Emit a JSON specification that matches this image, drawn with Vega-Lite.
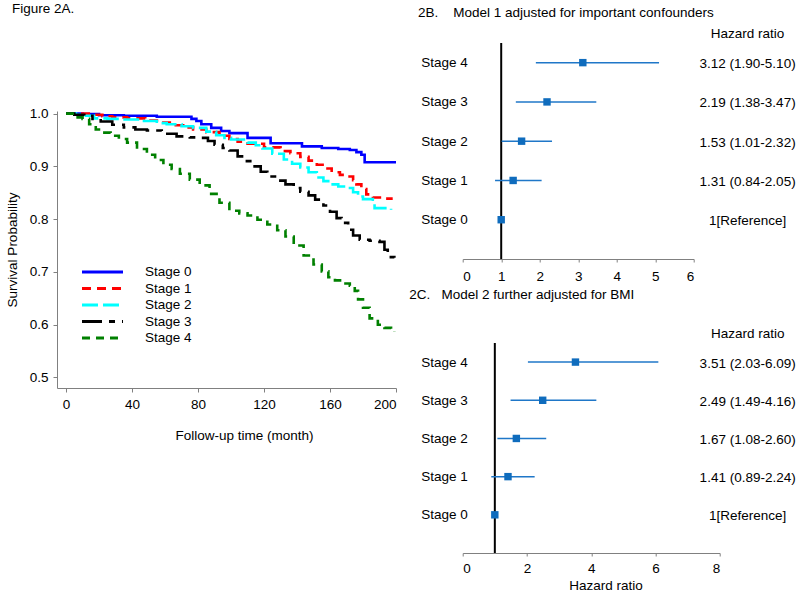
{
  "$schema": "https://vega.github.io/schema/vega-lite/v6.json",
  "padding": {"left": 5, "top": 2, "right": 0, "bottom": 0},
  "autosize": {"type": "pad"},
  "background": "white",
  "config": {
    "font": "Liberation Sans",
    "view": {"stroke": null},
    "axis": {"grid": false, "domainColor": "#808080", "tickColor": "#808080", "labelColor": "#000000", "titleColor": "#000000", "labelFontSize": 13.5, "titleFontSize": 13.5, "titleFontWeight": "normal", "labelFont": "Liberation Sans", "titleFont": "Liberation Sans"},
    "title": {"fontSize": 13.5, "fontWeight": "normal", "font": "Liberation Sans", "color": "#000000", "anchor": "start", "frame": "group", "baseline": "alphabetic"},
    "text": {"font": "Liberation Sans", "fontSize": 13.5, "color": "#000000"}
  },
  "datasets": {
    "surv": [
      {"stage": "Stage 0", "t": 0, "s": 1.0}, {"stage": "Stage 0", "t": 10, "s": 0.999}, {"stage": "Stage 0", "t": 20, "s": 0.997}, {"stage": "Stage 0", "t": 35, "s": 0.996}, {"stage": "Stage 0", "t": 55, "s": 0.994}, {"stage": "Stage 0", "t": 76, "s": 0.99}, {"stage": "Stage 0", "t": 79, "s": 0.986}, {"stage": "Stage 0", "t": 82, "s": 0.98}, {"stage": "Stage 0", "t": 88, "s": 0.973}, {"stage": "Stage 0", "t": 94, "s": 0.967}, {"stage": "Stage 0", "t": 99, "s": 0.963}, {"stage": "Stage 0", "t": 110, "s": 0.954}, {"stage": "Stage 0", "t": 124, "s": 0.944}, {"stage": "Stage 0", "t": 143, "s": 0.938}, {"stage": "Stage 0", "t": 155, "s": 0.935}, {"stage": "Stage 0", "t": 165, "s": 0.933}, {"stage": "Stage 0", "t": 172, "s": 0.931}, {"stage": "Stage 0", "t": 176, "s": 0.927}, {"stage": "Stage 0", "t": 179, "s": 0.922}, {"stage": "Stage 0", "t": 181, "s": 0.908}, {"stage": "Stage 0", "t": 200, "s": 0.908},
      {"stage": "Stage 1", "t": 0, "s": 1.0}, {"stage": "Stage 1", "t": 8, "s": 1.0}, {"stage": "Stage 1", "t": 15, "s": 0.998}, {"stage": "Stage 1", "t": 22, "s": 0.995}, {"stage": "Stage 1", "t": 28, "s": 0.993}, {"stage": "Stage 1", "t": 37, "s": 0.991}, {"stage": "Stage 1", "t": 48, "s": 0.987}, {"stage": "Stage 1", "t": 56, "s": 0.983}, {"stage": "Stage 1", "t": 64, "s": 0.978}, {"stage": "Stage 1", "t": 71, "s": 0.974}, {"stage": "Stage 1", "t": 77, "s": 0.97}, {"stage": "Stage 1", "t": 85, "s": 0.965}, {"stage": "Stage 1", "t": 93, "s": 0.958}, {"stage": "Stage 1", "t": 99, "s": 0.952}, {"stage": "Stage 1", "t": 104, "s": 0.947}, {"stage": "Stage 1", "t": 110, "s": 0.943}, {"stage": "Stage 1", "t": 120, "s": 0.936}, {"stage": "Stage 1", "t": 130, "s": 0.929}, {"stage": "Stage 1", "t": 136, "s": 0.925}, {"stage": "Stage 1", "t": 142, "s": 0.918}, {"stage": "Stage 1", "t": 147, "s": 0.911}, {"stage": "Stage 1", "t": 152, "s": 0.903}, {"stage": "Stage 1", "t": 157, "s": 0.896}, {"stage": "Stage 1", "t": 161, "s": 0.889}, {"stage": "Stage 1", "t": 166, "s": 0.884}, {"stage": "Stage 1", "t": 170, "s": 0.881}, {"stage": "Stage 1", "t": 174, "s": 0.874}, {"stage": "Stage 1", "t": 176, "s": 0.866}, {"stage": "Stage 1", "t": 179, "s": 0.857}, {"stage": "Stage 1", "t": 182, "s": 0.847}, {"stage": "Stage 1", "t": 186, "s": 0.841}, {"stage": "Stage 1", "t": 192, "s": 0.839}, {"stage": "Stage 1", "t": 198, "s": 0.839},
      {"stage": "Stage 2", "t": 0, "s": 1.0}, {"stage": "Stage 2", "t": 6, "s": 0.998}, {"stage": "Stage 2", "t": 12, "s": 0.996}, {"stage": "Stage 2", "t": 17, "s": 0.991}, {"stage": "Stage 2", "t": 25, "s": 0.99}, {"stage": "Stage 2", "t": 33, "s": 0.989}, {"stage": "Stage 2", "t": 45, "s": 0.986}, {"stage": "Stage 2", "t": 55, "s": 0.982}, {"stage": "Stage 2", "t": 61, "s": 0.98}, {"stage": "Stage 2", "t": 70, "s": 0.976}, {"stage": "Stage 2", "t": 77, "s": 0.973}, {"stage": "Stage 2", "t": 85, "s": 0.966}, {"stage": "Stage 2", "t": 91, "s": 0.959}, {"stage": "Stage 2", "t": 96, "s": 0.954}, {"stage": "Stage 2", "t": 100, "s": 0.951}, {"stage": "Stage 2", "t": 110, "s": 0.945}, {"stage": "Stage 2", "t": 115, "s": 0.94}, {"stage": "Stage 2", "t": 119, "s": 0.934}, {"stage": "Stage 2", "t": 125, "s": 0.924}, {"stage": "Stage 2", "t": 132, "s": 0.913}, {"stage": "Stage 2", "t": 137, "s": 0.905}, {"stage": "Stage 2", "t": 142, "s": 0.898}, {"stage": "Stage 2", "t": 147, "s": 0.889}, {"stage": "Stage 2", "t": 152, "s": 0.879}, {"stage": "Stage 2", "t": 156, "s": 0.872}, {"stage": "Stage 2", "t": 160, "s": 0.866}, {"stage": "Stage 2", "t": 165, "s": 0.862}, {"stage": "Stage 2", "t": 170, "s": 0.859}, {"stage": "Stage 2", "t": 174, "s": 0.851}, {"stage": "Stage 2", "t": 177, "s": 0.843}, {"stage": "Stage 2", "t": 180, "s": 0.838}, {"stage": "Stage 2", "t": 186, "s": 0.837}, {"stage": "Stage 2", "t": 187, "s": 0.821}, {"stage": "Stage 2", "t": 197, "s": 0.818},
      {"stage": "Stage 3", "t": 0, "s": 1.0}, {"stage": "Stage 3", "t": 5, "s": 0.998}, {"stage": "Stage 3", "t": 11, "s": 0.996}, {"stage": "Stage 3", "t": 16, "s": 0.99}, {"stage": "Stage 3", "t": 21, "s": 0.985}, {"stage": "Stage 3", "t": 28, "s": 0.979}, {"stage": "Stage 3", "t": 35, "s": 0.974}, {"stage": "Stage 3", "t": 42, "s": 0.97}, {"stage": "Stage 3", "t": 49, "s": 0.968}, {"stage": "Stage 3", "t": 58, "s": 0.962}, {"stage": "Stage 3", "t": 67, "s": 0.957}, {"stage": "Stage 3", "t": 75, "s": 0.955}, {"stage": "Stage 3", "t": 81, "s": 0.954}, {"stage": "Stage 3", "t": 86, "s": 0.948}, {"stage": "Stage 3", "t": 90, "s": 0.941}, {"stage": "Stage 3", "t": 95, "s": 0.935}, {"stage": "Stage 3", "t": 99, "s": 0.93}, {"stage": "Stage 3", "t": 104, "s": 0.919}, {"stage": "Stage 3", "t": 108, "s": 0.91}, {"stage": "Stage 3", "t": 113, "s": 0.9}, {"stage": "Stage 3", "t": 118, "s": 0.89}, {"stage": "Stage 3", "t": 122, "s": 0.881}, {"stage": "Stage 3", "t": 128, "s": 0.873}, {"stage": "Stage 3", "t": 133, "s": 0.866}, {"stage": "Stage 3", "t": 138, "s": 0.859}, {"stage": "Stage 3", "t": 142, "s": 0.852}, {"stage": "Stage 3", "t": 147, "s": 0.845}, {"stage": "Stage 3", "t": 151, "s": 0.837}, {"stage": "Stage 3", "t": 156, "s": 0.826}, {"stage": "Stage 3", "t": 160, "s": 0.814}, {"stage": "Stage 3", "t": 164, "s": 0.802}, {"stage": "Stage 3", "t": 167, "s": 0.793}, {"stage": "Stage 3", "t": 171, "s": 0.78}, {"stage": "Stage 3", "t": 174, "s": 0.769}, {"stage": "Stage 3", "t": 178, "s": 0.761}, {"stage": "Stage 3", "t": 184, "s": 0.759}, {"stage": "Stage 3", "t": 190, "s": 0.757}, {"stage": "Stage 3", "t": 193, "s": 0.742}, {"stage": "Stage 3", "t": 195, "s": 0.728}, {"stage": "Stage 3", "t": 199, "s": 0.727},
      {"stage": "Stage 4", "t": 0, "s": 1.0}, {"stage": "Stage 4", "t": 4, "s": 0.996}, {"stage": "Stage 4", "t": 7, "s": 0.993}, {"stage": "Stage 4", "t": 10, "s": 0.99}, {"stage": "Stage 4", "t": 14, "s": 0.98}, {"stage": "Stage 4", "t": 18, "s": 0.97}, {"stage": "Stage 4", "t": 22, "s": 0.964}, {"stage": "Stage 4", "t": 27, "s": 0.958}, {"stage": "Stage 4", "t": 32, "s": 0.952}, {"stage": "Stage 4", "t": 37, "s": 0.945}, {"stage": "Stage 4", "t": 43, "s": 0.933}, {"stage": "Stage 4", "t": 49, "s": 0.922}, {"stage": "Stage 4", "t": 54, "s": 0.912}, {"stage": "Stage 4", "t": 59, "s": 0.903}, {"stage": "Stage 4", "t": 64, "s": 0.895}, {"stage": "Stage 4", "t": 69, "s": 0.886}, {"stage": "Stage 4", "t": 75, "s": 0.875}, {"stage": "Stage 4", "t": 81, "s": 0.864}, {"stage": "Stage 4", "t": 87, "s": 0.848}, {"stage": "Stage 4", "t": 93, "s": 0.831}, {"stage": "Stage 4", "t": 99, "s": 0.816}, {"stage": "Stage 4", "t": 105, "s": 0.811}, {"stage": "Stage 4", "t": 110, "s": 0.807}, {"stage": "Stage 4", "t": 116, "s": 0.799}, {"stage": "Stage 4", "t": 122, "s": 0.79}, {"stage": "Stage 4", "t": 128, "s": 0.779}, {"stage": "Stage 4", "t": 133, "s": 0.767}, {"stage": "Stage 4", "t": 138, "s": 0.75}, {"stage": "Stage 4", "t": 144, "s": 0.731}, {"stage": "Stage 4", "t": 150, "s": 0.714}, {"stage": "Stage 4", "t": 155, "s": 0.701}, {"stage": "Stage 4", "t": 159, "s": 0.69}, {"stage": "Stage 4", "t": 163, "s": 0.684}, {"stage": "Stage 4", "t": 168, "s": 0.678}, {"stage": "Stage 4", "t": 172, "s": 0.674}, {"stage": "Stage 4", "t": 175, "s": 0.664}, {"stage": "Stage 4", "t": 177, "s": 0.648}, {"stage": "Stage 4", "t": 180, "s": 0.632}, {"stage": "Stage 4", "t": 184, "s": 0.612}, {"stage": "Stage 4", "t": 189, "s": 0.6}, {"stage": "Stage 4", "t": 193, "s": 0.594}, {"stage": "Stage 4", "t": 197, "s": 0.59}, {"stage": "Stage 4", "t": 199, "s": 0.587}
    ],
    "m1": [
      {"stage": 4, "hr": 3.12, "lo": 1.90, "hi": 5.10, "txt": "3.12 (1.90-5.10)"},
      {"stage": 3, "hr": 2.19, "lo": 1.38, "hi": 3.47, "txt": "2.19 (1.38-3.47)"},
      {"stage": 2, "hr": 1.53, "lo": 1.01, "hi": 2.32, "txt": "1.53 (1.01-2.32)"},
      {"stage": 1, "hr": 1.31, "lo": 0.84, "hi": 2.05, "txt": "1.31 (0.84-2.05)"},
      {"stage": 0, "hr": 1, "lo": 1, "hi": 1, "txt": "1[Reference]"}
    ],
    "m2": [
      {"stage": 4, "hr": 3.51, "lo": 2.03, "hi": 6.09, "txt": "3.51 (2.03-6.09)"},
      {"stage": 3, "hr": 2.49, "lo": 1.49, "hi": 4.16, "txt": "2.49 (1.49-4.16)"},
      {"stage": 2, "hr": 1.67, "lo": 1.08, "hi": 2.60, "txt": "1.67 (1.08-2.60)"},
      {"stage": 1, "hr": 1.41, "lo": 0.89, "hi": 2.24, "txt": "1.41 (0.89-2.24)"},
      {"stage": 0, "hr": 1, "lo": 1, "hi": 1, "txt": "1[Reference]"}
    ]
  },
  "bounds": "full",
  "spacing": 6.7,
  "resolve": {"scale": {"color": "independent", "strokeDash": "independent"}, "legend": {"color": "independent", "strokeDash": "independent"}},
  "hconcat": [
    {
      "bounds": "flush",
      "spacing": 67,
      "resolve": {"scale": {"color": "independent", "strokeDash": "independent"}, "legend": {"color": "independent", "strokeDash": "independent"}},
      "vconcat": [
        {"width": 339, "height": 1, "data": {"values": []}, "mark": "point"},
        {
          "width": 339,
          "height": 277,
          "title": {"text": "Figure 2A.", "dx": -45, "offset": 91.1},
          "data": {"name": "surv"},
          "mark": {"type": "line", "strokeWidth": 2.6, "interpolate": "step-after"},
          "encoding": {
            "x": {"field": "t", "type": "quantitative", "scale": {"domain": [-5.5, 200], "nice": false, "zero": false},
                  "axis": {"values": [0, 40, 80, 120, 160, 200], "title": "Follow-up time (month)", "titleX": 187, "titleY": 40.5, "titleAlign": "center", "tickSize": 4, "labelPadding": 5}},
            "y": {"field": "s", "type": "quantitative", "scale": {"domain": [0.48, 1.005], "nice": false, "zero": false},
                  "axis": {"values": [0.5, 0.6, 0.7, 0.8, 0.9, 1.0], "format": ".1f", "title": "Survival Probability", "titleX": -38, "tickSize": 4, "labelPadding": 5}},
            "color": {"field": "stage", "type": "nominal",
                      "scale": {"domain": ["Stage 0", "Stage 1", "Stage 2", "Stage 3", "Stage 4"], "range": ["#0000ff", "#ff0000", "#00ffff", "#000000", "#008000"]},
                      "legend": {"orient": "none", "legendX": 23.5, "legendY": 153, "title": null, "padding": 0, "symbolType": "stroke", "symbolSize": 1681, "symbolStrokeWidth": 3, "clipHeight": 16, "rowPadding": 0.5, "labelOffset": 20.5, "symbolOffset": 0, "labelFontSize": 13.5, "labelColor": "#000000", "labelFont": "Liberation Sans", "labelLimit": 200}},
            "strokeDash": {"field": "stage", "type": "nominal",
                      "scale": {"domain": ["Stage 0", "Stage 1", "Stage 2", "Stage 3", "Stage 4"], "range": [[1, 0], [9, 6], [16, 5], [20, 7, 6, 7], [8, 6]]},
                      "legend": {"orient": "none", "legendX": 23.5, "legendY": 153, "title": null, "padding": 0, "symbolType": "stroke", "symbolSize": 1681, "symbolStrokeWidth": 3, "clipHeight": 16, "rowPadding": 0.5, "labelOffset": 20.5, "symbolOffset": 0, "labelFontSize": 13.5, "labelColor": "#000000", "labelFont": "Liberation Sans", "labelLimit": 200}}
          }
        }
      ]
    },
    {
      "bounds": "flush",
      "spacing": 84,
      "vconcat": [
        {
          "width": 231,
          "height": 216,
          "title": {"text": "2B.\u00a0\u00a0\u00a0\u00a0Model 1 adjusted for important confounders", "dx": -44.7, "offset": 7.2},
          "layer": [
            {"data": {"values": [{"ref": 1}]}, "mark": {"type": "rule", "color": "#000000", "strokeWidth": 2},
             "encoding": {"x": {"field": "ref", "type": "quantitative", "scale": {"domain": [0, 6], "nice": false, "zero": false},
                                "axis": {"values": [0, 1, 2, 3, 4, 5, 6], "title": null, "tickSize": 3, "labelPadding": 7.5}}}},
            {"data": {"name": "m1"}, "mark": {"type": "rule", "color": "#1f77c8", "strokeWidth": 1.5},
             "encoding": {"x": {"field": "lo", "type": "quantitative", "scale": {"domain": [0, 6], "nice": false, "zero": false},
                                "axis": {"values": [0, 1, 2, 3, 4, 5, 6], "title": null, "tickSize": 3, "labelPadding": 7.5}},
                          "x2": {"field": "hi"},
                          "y": {"field": "stage", "type": "quantitative", "scale": {"domain": [-1, 4.5], "nice": false, "zero": false},
                                "axis": {"values": [0, 1, 2, 3, 4], "labelExpr": "'Stage ' + datum.value", "labelAlign": "left", "labelPadding": 42, "ticks": false, "tickSize": 0, "domain": false, "title": null}}}},
            {"data": {"name": "m1"}, "mark": {"type": "point", "shape": "square", "filled": true, "size": 55, "color": "#0f6cbd", "opacity": 1},
             "encoding": {"x": {"field": "hr", "type": "quantitative", "scale": {"domain": [0, 6], "nice": false, "zero": false},
                                "axis": {"values": [0, 1, 2, 3, 4, 5, 6], "title": null, "tickSize": 3, "labelPadding": 7.5}},
                          "y": {"field": "stage", "type": "quantitative", "scale": {"domain": [-1, 4.5], "nice": false, "zero": false},
                                "axis": {"values": [0, 1, 2, 3, 4], "labelExpr": "'Stage ' + datum.value", "labelAlign": "left", "labelPadding": 42, "ticks": false, "tickSize": 0, "domain": false, "title": null}}}},
            {"data": {"name": "m1"}, "mark": {"type": "text", "align": "center", "baseline": "middle", "dy": 1.5},
             "encoding": {"x": {"datum": 7.4, "type": "quantitative", "scale": {"domain": [0, 6], "nice": false, "zero": false},
                                "axis": {"values": [0, 1, 2, 3, 4, 5, 6], "title": null, "tickSize": 3, "labelPadding": 7.5}},
                          "y": {"field": "stage", "type": "quantitative", "scale": {"domain": [-1, 4.5], "nice": false, "zero": false},
                                "axis": {"values": [0, 1, 2, 3, 4], "labelExpr": "'Stage ' + datum.value", "labelAlign": "left", "labelPadding": 42, "ticks": false, "tickSize": 0, "domain": false, "title": null}},
                          "text": {"field": "txt"}}},
            {"data": {"values": [{"h": "Hazard ratio"}]}, "mark": {"type": "text", "align": "center", "baseline": "alphabetic"},
             "encoding": {"x": {"datum": 7.4, "type": "quantitative", "scale": {"domain": [0, 6], "nice": false, "zero": false},
                                "axis": {"values": [0, 1, 2, 3, 4, 5, 6], "title": null, "tickSize": 3, "labelPadding": 7.5}},
                          "y": {"datum": 4.627, "type": "quantitative", "scale": {"domain": [-1, 4.5], "nice": false, "zero": false},
                                "axis": {"values": [0, 1, 2, 3, 4], "labelExpr": "'Stage ' + datum.value", "labelAlign": "left", "labelPadding": 42, "ticks": false, "tickSize": 0, "domain": false, "title": null}},
                          "text": {"field": "h"}}}
          ]
        },
        {
          "width": 257,
          "height": 210,
          "title": {"text": "2C.\u00a0\u00a0\u00a0Model 2 further adjusted for BMI", "dx": -53.5, "offset": 25.1},
          "layer": [
            {"data": {"values": [{"ref": 1}]}, "mark": {"type": "rule", "color": "#000000", "strokeWidth": 2},
             "encoding": {"x": {"field": "ref", "type": "quantitative", "scale": {"domain": [0, 8], "nice": false, "zero": false},
                                "axis": {"values": [0, 2, 4, 6, 8], "title": "Hazard ratio", "titleX": 142.8, "titleY": 25, "titleAlign": "center", "tickSize": 3, "labelPadding": 5}}}},
            {"data": {"name": "m2"}, "mark": {"type": "rule", "color": "#1f77c8", "strokeWidth": 1.5},
             "encoding": {"x": {"field": "lo", "type": "quantitative", "scale": {"domain": [0, 8], "nice": false, "zero": false},
                                "axis": {"values": [0, 2, 4, 6, 8], "title": "Hazard ratio", "titleX": 142.8, "titleY": 25, "titleAlign": "center", "tickSize": 3, "labelPadding": 5}},
                          "x2": {"field": "hi"},
                          "y": {"field": "stage", "type": "quantitative", "scale": {"domain": [-1, 4.5], "nice": false, "zero": false},
                                "axis": {"values": [0, 1, 2, 3, 4], "labelExpr": "'Stage ' + datum.value", "labelAlign": "left", "labelPadding": 42, "ticks": false, "tickSize": 0, "domain": false, "title": null}}}},
            {"data": {"name": "m2"}, "mark": {"type": "point", "shape": "square", "filled": true, "size": 55, "color": "#0f6cbd", "opacity": 1},
             "encoding": {"x": {"field": "hr", "type": "quantitative", "scale": {"domain": [0, 8], "nice": false, "zero": false},
                                "axis": {"values": [0, 2, 4, 6, 8], "title": "Hazard ratio", "titleX": 142.8, "titleY": 25, "titleAlign": "center", "tickSize": 3, "labelPadding": 5}},
                          "y": {"field": "stage", "type": "quantitative", "scale": {"domain": [-1, 4.5], "nice": false, "zero": false},
                                "axis": {"values": [0, 1, 2, 3, 4], "labelExpr": "'Stage ' + datum.value", "labelAlign": "left", "labelPadding": 42, "ticks": false, "tickSize": 0, "domain": false, "title": null}}}},
            {"data": {"name": "m2"}, "mark": {"type": "text", "align": "center", "baseline": "middle", "dy": 1.5},
             "encoding": {"x": {"datum": 8.87, "type": "quantitative", "scale": {"domain": [0, 8], "nice": false, "zero": false},
                                "axis": {"values": [0, 2, 4, 6, 8], "title": "Hazard ratio", "titleX": 142.8, "titleY": 25, "titleAlign": "center", "tickSize": 3, "labelPadding": 5}},
                          "y": {"field": "stage", "type": "quantitative", "scale": {"domain": [-1, 4.5], "nice": false, "zero": false},
                                "axis": {"values": [0, 1, 2, 3, 4], "labelExpr": "'Stage ' + datum.value", "labelAlign": "left", "labelPadding": 42, "ticks": false, "tickSize": 0, "domain": false, "title": null}},
                          "text": {"field": "txt"}}},
            {"data": {"values": [{"h": "Hazard ratio"}]}, "mark": {"type": "text", "align": "center", "baseline": "alphabetic"},
             "encoding": {"x": {"datum": 8.87, "type": "quantitative", "scale": {"domain": [0, 8], "nice": false, "zero": false},
                                "axis": {"values": [0, 2, 4, 6, 8], "title": "Hazard ratio", "titleX": 142.8, "titleY": 25, "titleAlign": "center", "tickSize": 3, "labelPadding": 5}},
                          "y": {"datum": 4.631, "type": "quantitative", "scale": {"domain": [-1, 4.5], "nice": false, "zero": false},
                                "axis": {"values": [0, 1, 2, 3, 4], "labelExpr": "'Stage ' + datum.value", "labelAlign": "left", "labelPadding": 42, "ticks": false, "tickSize": 0, "domain": false, "title": null}},
                          "text": {"field": "h"}}}
          ]
        }
      ]
    }
  ]
}
